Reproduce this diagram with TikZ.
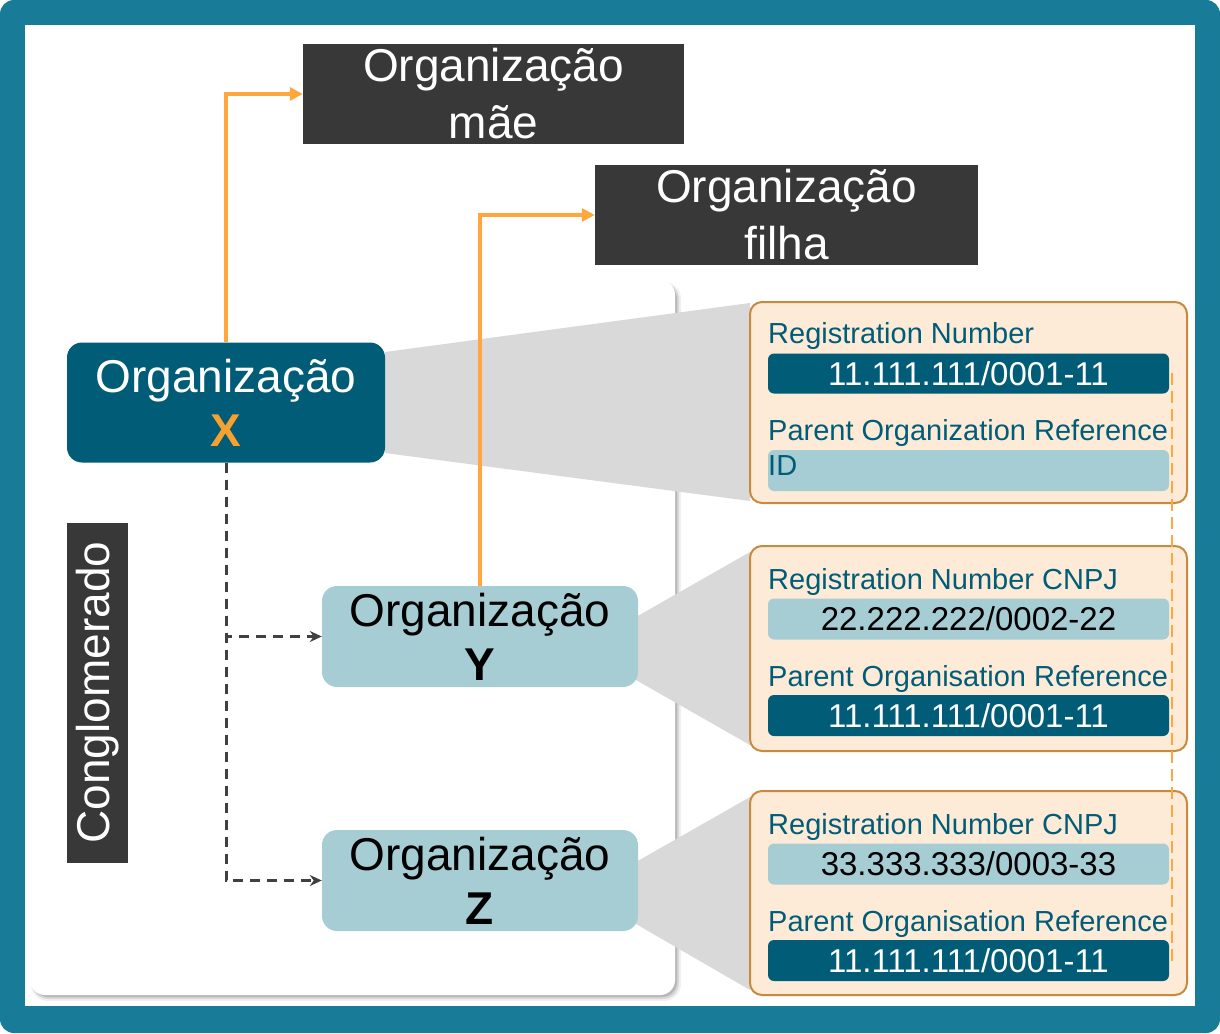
\documentclass[tikz,border=0pt]{standalone}
\usepackage{fontspec}
\setmainfont{Liberation Sans}
\usetikzlibrary{arrows.meta}
\definecolor{frameteal}{HTML}{187C99}
\definecolor{darkbox}{HTML}{383838}
\definecolor{xteal}{HTML}{005C77}
\definecolor{lteal}{HTML}{A7CDD4}
\definecolor{arrorange}{HTML}{FFA73D}
\definecolor{xorange}{HTML}{F9A12E}
\definecolor{peach}{HTML}{FDEBD8}
\definecolor{peachborder}{HTML}{C98A3D}
\definecolor{callgray}{HTML}{D9D9D9}
\definecolor{dashgray}{HTML}{404040}
\begin{document}
\begin{tikzpicture}[x=1pt,y=-1pt,
  bigtext/.style={font=\fontsize{46}{54}\selectfont, align=center, inner sep=0pt},
  darklabel/.style={bigtext, font=\fontsize{46}{57}\selectfont, fill=darkbox, text=white, minimum width=381pt, minimum height=100pt},
  orgbox/.style={bigtext, rounded corners=15pt, minimum width=316pt, minimum height=101pt},
  panelbox/.style={draw=peachborder, line width=2pt, fill=peach, rounded corners=12pt, minimum width=437pt, inner sep=0pt},
  darkbar/.style={fill=xteal, text=white, rounded corners=6pt, minimum width=401pt, minimum height=40pt, inner sep=0pt, font=\fontsize{33}{36}\selectfont},
  lightbar/.style={fill=lteal, text=black, rounded corners=6pt, minimum width=401pt, minimum height=41pt, inner sep=0pt, font=\fontsize{33}{36}\selectfont},
  lbl/.style={anchor=base west, inner sep=0pt, text=xteal, font=\fontsize{29}{33}\selectfont},
  orangearrow/.style={draw=arrorange, line width=3.2pt, -{Triangle[length=13pt,width=13pt]}},
  dasharrow/.style={draw=dashgray, line width=3pt, dash pattern=on 10pt off 7pt, -{Stealth[length=12pt,width=11pt]}},
  orangedash/.style={draw=arrorange, line width=2.8pt, dash pattern=on 12pt off 6pt}
]
\useasboundingbox (0,0) rectangle (1220,1033);
% frame
\fill[frameteal, rounded corners=14pt] (0,0) rectangle (1220,1033);
\fill[white] (25,25) rectangle (1195,1006);
% white panel with shadow
\fill[black, opacity=0.06, rounded corners=17pt] (31,282) rectangle (681,1001);
\fill[black, opacity=0.10, rounded corners=16pt] (32,283) rectangle (679,999);
\fill[black, opacity=0.14, rounded corners=15pt] (33,284) rectangle (677,997);
\fill[white, rounded corners=15pt] (30,280) rectangle (675,995);
% callouts
\fill[callgray] (385,352) -- (750,303) -- (750,501) -- (385,453) -- cycle;
\fill[callgray] (636,617) -- (750,552) -- (750,745) -- (636,680) -- cycle;
\fill[callgray] (636,862) -- (750,797) -- (750,990) -- (636,924) -- cycle;
% top labels
\node[darklabel] (mae) at (493.5,94) {Organização\\mãe};
\node[darklabel, minimum width=383pt] (filha) at (786.5,215) {Organização\\filha};
% organisations
\node[orgbox, fill=xteal, text=white, minimum width=318pt, minimum height=120pt] (X) at (226,402.5) {Organização\\{\bfseries\color{xorange}X}};
\node[orgbox, fill=lteal, text=black] (Y) at (480,636.5) {Organização\\{\bfseries Y}};
\node[orgbox, fill=lteal, text=black] (Z) at (480,880.5) {Organização\\{\bfseries Z}};
% conglomerado
\node[fill=darkbox, text=white, rotate=90, minimum width=340pt, minimum height=61pt, inner sep=0pt, font=\fontsize{46}{50}\selectfont] (cong) at (97.5,692.5) {Conglomerado};
% connectors
\draw[orangearrow] (X.north) |- (mae.west);
\draw[orangearrow] (Y.north) |- (filha.west);
\draw[dasharrow] (X.south) |- (Y.west);
\draw[dasharrow] (X.south) |- (Z.west);
% panel 1
\node[panelbox, minimum height=201pt] (p1) at (968.5,402.5) {};
\node[lbl] (l1a) at (768,343) {Registration Number};
\node[darkbar] (b1a) at (968.5,373.5) {11.111.111/0001-11};
\node[lbl] (l1b) at (768,440) {Parent Organization Reference};
\node[lightbar] (b1b) at (968.5,470.5) {};
\node[lbl] (l1c) at (768,475) {ID};
% panel 2
\node[panelbox, minimum height=205pt] (p2) at (968.5,648.5) {};
\node[lbl] (l2a) at (768,589) {Registration Number CNPJ};
\node[lightbar] (b2a) at (968.5,619) {22.222.222/0002-22};
\node[lbl] (l2b) at (768,686) {Parent Organisation Reference};
\node[darkbar, minimum height=41pt] (b2b) at (968.5,715.5) {11.111.111/0001-11};
% panel 3
\node[panelbox, minimum height=204pt] (p3) at (968.5,893) {};
\node[lbl] (l3a) at (768,834) {Registration Number CNPJ};
\node[lightbar] (b3a) at (968.5,864) {33.333.333/0003-33};
\node[lbl] (l3b) at (768,931) {Parent Organisation Reference};
\node[darkbar, minimum height=41pt] (b3b) at (968.5,960.5) {11.111.111/0001-11};
% orange dashed reference line
\coordinate (od1) at (1172,373);
\coordinate (od2) at (1172,962);
\draw[orangedash] (od1) -- (od2);
\end{tikzpicture}
\end{document}
